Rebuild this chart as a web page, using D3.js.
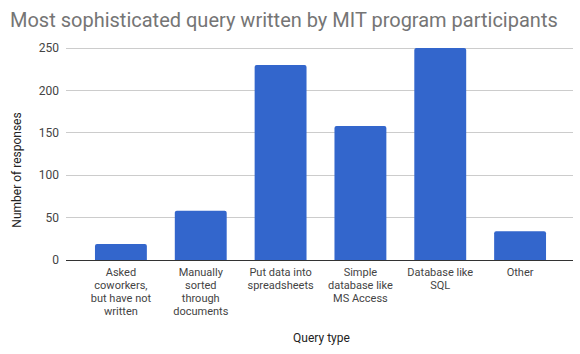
<!DOCTYPE html>
<html>
<head>
<meta charset="utf-8">
<script src="https://cdn.jsdelivr.net/npm/d3@7"></script>
<style>
  body { margin: 0; background: #fff; }
  svg { font-family: Roboto, Arial, sans-serif; }
</style>
</head>
<body>
<svg id="chart" width="580" height="354"></svg>
<script>
// data
const categories = [
  'Asked coworkers, but have not written',
  'Manually sorted through documents',
  'Put data into spreadsheets',
  'Simple database like MS Access',
  'Database like SQL',
  'Other'
]
const labelLines = [
  ['Asked', 'coworkers,', 'but have not', 'written'],
  ['Manually', 'sorted', 'through', 'documents'],
  ['Put data into', 'spreadsheets'],
  ['Simple', 'database like', 'MS Access'],
  ['Database like', 'SQL'],
  ['Other']
]
const responses = [19, 58, 230, 158, 250, 34]
const yTicks = [0, 50, 100, 150, 200, 250]

const svg = d3.select('#chart')
const margin = {top: 48, left: 66, right: 7, bottom: 94}
const width = 580, height = 354
const inW = width - margin.left - margin.right
const inH = height - margin.top - margin.bottom

const x = d3.scaleBand()
  .domain(categories)
  .range([15, inW - 13])
  .paddingInner(0.35)
  .paddingOuter(0.175)

const y = d3.scaleLinear()
  .domain([0, 250])
  .range([inH, 0])

const g = svg.append('g')
  .attr('transform', `translate(${margin.left},${margin.top})`)

// gridlines
g.selectAll('.grid')
  .data(yTicks.filter(d => d > 0))
  .join('line')
  .attr('x1', 0).attr('x2', inW)
  .attr('y1', d => y(d)).attr('y2', d => y(d))
  .attr('stroke', '#cccccc')
  .attr('stroke-width', 1)
  .attr('shape-rendering', 'crispEdges')

// y tick labels
g.selectAll('.ytick')
  .data(yTicks)
  .join('text')
  .attr('x', -7)
  .attr('y', d => y(d))
  .attr('dy', '0.35em')
  .attr('text-anchor', 'end')
  .attr('font-size', 12)
  .attr('fill', '#444')
  .text(d => d)

// bars with slightly rounded tops
g.selectAll('.bar')
  .data(categories)
  .join('path')
  .attr('fill', '#3366cc')
  .attr('d', (d, i) => {
    const x0 = x(d), w = x.bandwidth()
    const y0 = y(responses[i]), b = y(0), r = 2
    return `M${x0},${b}V${y0 + r}Q${x0},${y0} ${x0 + r},${y0}H${x0 + w - r}Q${x0 + w},${y0} ${x0 + w},${y0 + r}V${b}Z`
  })

// baseline
g.append('line')
  .attr('x1', 0).attr('x2', inW)
  .attr('y1', y(0)).attr('y2', y(0))
  .attr('stroke', '#333')
  .attr('stroke-width', 1)
  .attr('shape-rendering', 'crispEdges')

// x category labels, one text per line so they wrap like the original
const xlab = g.selectAll('.xlab')
  .data(categories)
  .join('g')
  .attr('class', 'xlab')
  .attr('transform', d => `translate(${x(d) + x.bandwidth() / 2},${inH + 16})`)

xlab.selectAll('text')
  .data((d, i) => labelLines[i])
  .join('text')
  .attr('y', (t, j) => j * 13)
  .attr('text-anchor', 'middle')
  .attr('font-size', 11)
  .attr('fill', '#444')
  .text(t => t)

// title
svg.append('text')
  .attr('x', 10)
  .attr('y', 27)
  .attr('font-size', 20)
  .attr('fill', '#757575')
  .text('Most sophisticated query written by MIT program participants')

// axis titles
svg.append('text')
  .attr('x', margin.left + inW / 2 + 2)
  .attr('y', 342)
  .attr('text-anchor', 'middle')
  .attr('font-size', 12)
  .attr('fill', '#222')
  .text('Query type')

svg.append('text')
  .attr('transform', 'translate(21,170) rotate(-90)')
  .attr('text-anchor', 'middle')
  .attr('font-size', 12)
  .attr('fill', '#222')
  .text('Number of responses')
</script>
</body>
</html>
